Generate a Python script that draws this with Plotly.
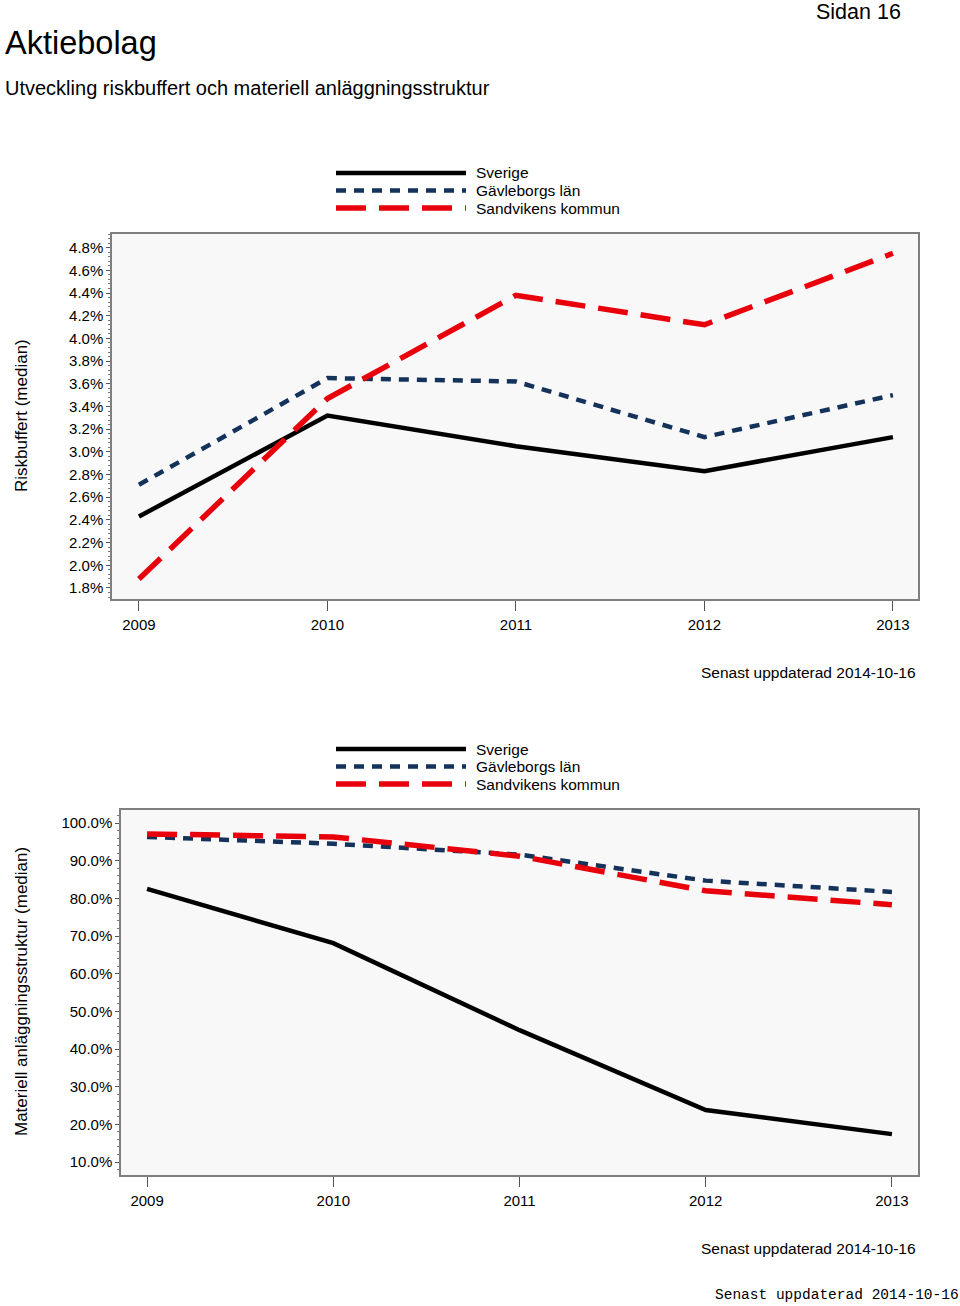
import plotly.graph_objects as go

W, H = 960, 1306

years = [2009, 2010, 2011, 2012, 2013]
series_names = ["Sverige", "Gävleborgs län", "Sandvikens kommun"]

# Riskbuffert (median), in %
risk_sverige = [2.43, 3.32, 3.05, 2.83, 3.13]
risk_gavleborg = [2.71, 3.65, 3.62, 3.13, 3.50]
risk_sandviken = [1.88, 3.47, 4.38, 4.12, 4.75]

# Materiell anläggningsstruktur (median), in %
mat_sverige = [82.5, 68.1, 45.0, 23.8, 17.4]
mat_gavleborg = [96.3, 94.5, 91.6, 84.7, 81.7]
mat_sandviken = [97.1, 96.3, 91.2, 82.0, 78.3]

risk_ticks = [1.8, 2.0, 2.2, 2.4, 2.6, 2.8, 3.0, 3.2, 3.4, 3.6, 3.8, 4.0, 4.2, 4.4, 4.6, 4.8]
mat_ticks = [10, 20, 30, 40, 50, 60, 70, 80, 90, 100]

styles = [
    dict(color="#000000", width=4.5, dash="solid"),
    dict(color="#14325a", width=4.5, dash="10px,8px"),
    dict(color="#e8000b", width=5.5, dash="30px,13px"),
]

FONT = "Liberation Sans, Arial, sans-serif"


def px(x):
    return x / W


def py(y):
    return 1 - y / H


fig = go.Figure()

for i, (name, vals) in enumerate(zip(series_names, [risk_sverige, risk_gavleborg, risk_sandviken])):
    fig.add_trace(go.Scatter(x=years, y=vals, mode="lines", name=name, line=styles[i],
                             xaxis="x", yaxis="y", showlegend=False))
for i, (name, vals) in enumerate(zip(series_names, [mat_sverige, mat_gavleborg, mat_sandviken])):
    fig.add_trace(go.Scatter(x=years, y=vals, mode="lines", name=name, line=styles[i],
                             xaxis="x2", yaxis="y2", showlegend=False))

axis_common = dict(showgrid=False, zeroline=False, showline=True, mirror=True,
                   linecolor="#7f7f7f", linewidth=1.5, ticks="outside", tickcolor="#555555",
                   tickfont=dict(family=FONT, size=15, color="#000000"))

fig.update_layout(
    width=W, height=H,
    margin=dict(l=0, r=0, t=0, b=0),
    paper_bgcolor="white",
    plot_bgcolor="#f8f8f8",
    xaxis=dict(domain=[px(112), px(918)], range=[2008.857, 2013.133], tickvals=years,
               ticklen=10, ticklabelstandoff=1, anchor="y", **axis_common),
    yaxis=dict(domain=[py(599), py(234)], range=[1.703, 4.92], tickvals=risk_ticks,
               ticktext=[f"{v:.1f}%" for v in risk_ticks], ticklen=4, anchor="x",
               minor=dict(ticks="outside", ticklen=2, dtick=0.04, tickcolor="#777777"),
               **axis_common),
    xaxis2=dict(domain=[px(121), px(918)], range=[2008.86, 2013.14], tickvals=years,
                ticklen=10, ticklabelstandoff=1, anchor="y2", **axis_common),
    yaxis2=dict(domain=[py(1175), py(810)], range=[6.55, 103.45], tickvals=mat_ticks,
                ticktext=[f"{v:.1f}%" for v in mat_ticks], ticklen=4, anchor="x2",
                minor=dict(ticks="outside", ticklen=2, dtick=2, tickcolor="#777777"),
                **axis_common),
)

ann = []
ann.append(dict(text="Aktiebolag", x=px(3), y=py(43), xanchor="left", yanchor="middle",
                font=dict(family=FONT, size=32.5, color="#000")))
ann.append(dict(text="Utveckling riskbuffert och materiell anläggningsstruktur", x=px(3), y=py(88),
                xanchor="left", yanchor="middle", font=dict(family=FONT, size=20, color="#000")))
ann.append(dict(text="Sidan 16", x=px(903), y=py(12), xanchor="right", yanchor="middle",
                font=dict(family=FONT, size=21.5, color="#000")))
ann.append(dict(text="Riskbuffert (median)", x=px(21), y=py(416), textangle=-90,
                xanchor="center", yanchor="middle", font=dict(family=FONT, size=17, color="#000")))
ann.append(dict(text="Materiell anläggningsstruktur (median)", x=px(21), y=py(992), textangle=-90,
                xanchor="center", yanchor="middle", font=dict(family=FONT, size=17, color="#000")))
for yy in (672, 1248):
    ann.append(dict(text="Senast uppdaterad 2014-10-16", x=px(918), y=py(yy), xanchor="right",
                    yanchor="middle", font=dict(family=FONT, size=15.5, color="#000")))
ann.append(dict(text="Senast uppdaterad 2014-10-16", x=px(961), y=py(1295), xanchor="right",
                yanchor="middle", font=dict(family="Liberation Mono, Courier New, monospace",
                                            size=14.5, color="#000")))

shapes = []
for top in (173, 749):
    for i, name in enumerate(series_names):
        yy = top + i * 17.5
        st = styles[i]
        shapes.append(dict(type="line", xref="paper", yref="paper", x0=px(336), x1=px(466),
                           y0=py(yy), y1=py(yy),
                           line=dict(color=st["color"], width=st["width"], dash=st["dash"])))
        ann.append(dict(text=name, x=px(474), y=py(yy), xanchor="left", yanchor="middle",
                        font=dict(family=FONT, size=15.5, color="#000")))

for a in ann:
    a.update(xref="paper", yref="paper", showarrow=False)

fig.update_layout(annotations=ann, shapes=shapes)

fig.write_html(
    "out.html",
    config={"displayModeBar": False},
    post_script="document.body.style.margin='0';document.body.style.padding='0';"
                "document.body.style.overflow='hidden';",
)
